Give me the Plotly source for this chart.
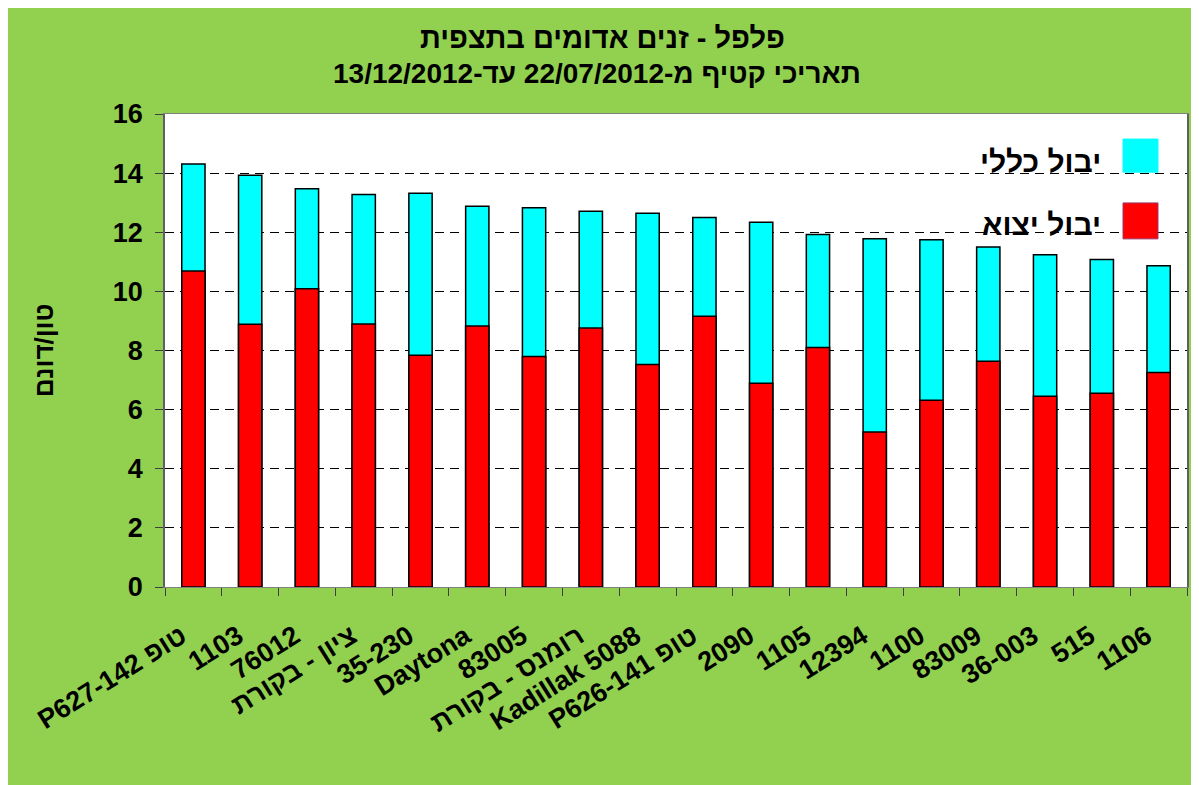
import plotly.graph_objects as go

RLE, PDF = "\u202B", "\u202C"

categories = [
    "טופ P627-142", "1103", "76012", "ציון - בקורת", "35-230", "Daytona",
    "83005", "רומנס - בקורת", "Kadillak 5088", "טופ P626-141", "2090", "1105",
    "12394", "1100", "83009", "36-003", "515", "1106",
]
total_yield = [14.31, 13.93, 13.47, 13.28, 13.32, 12.88, 12.83, 12.71, 12.64, 12.50,
               12.34, 11.92, 11.78, 11.75, 11.50, 11.24, 11.08, 10.87]
export_yield = [10.69, 8.89, 10.09, 8.90, 7.84, 8.83, 7.80, 8.76, 7.53, 9.16,
                6.89, 8.10, 5.24, 6.32, 7.64, 6.45, 6.55, 7.26]
y_ticks = [0, 2, 4, 6, 8, 10, 12, 14, 16]

title_line1 = "פלפל - זנים אדומים בתצפית"
title_line2 = "תאריכי קטיף מ-22/07/2012 עד-13/12/2012"
y_title = "טון/דונם"
name_total = "יבול כללי"
name_export = "יבול יצוא"

GREEN = "#92D050"
FONT = "Liberation Sans, Arial, sans-serif"

# right-to-left display of the Hebrew labels
x_labels = [RLE + c + PDF for c in categories]

fig = go.Figure()
fig.add_trace(go.Bar(
    x=x_labels, y=total_yield, name=name_total, width=0.41,
    marker=dict(color="#00FFFF", line=dict(color="#000000", width=1.5)),
))
fig.add_trace(go.Bar(
    x=x_labels, y=export_yield, name=name_export, width=0.41,
    marker=dict(color="#FF0000", line=dict(color="#000000", width=1.5)),
))

# titles
fig.add_annotation(xref="paper", yref="paper", x=0.428, y=1.1607, text=RLE + title_line1 + PDF,
                   showarrow=False, xanchor="center", yanchor="middle",
                   font=dict(family=FONT, size=29, color="black", weight="bold"))
fig.add_annotation(xref="paper", yref="paper", x=0.423, y=1.0846, text=RLE + title_line2 + PDF,
                   showarrow=False, xanchor="center", yanchor="middle",
                   font=dict(family=FONT, size=28, color="black", weight="bold"))

# custom right-to-left legend
legend_items = [(name_total, "#00FFFF", "#00FFFF", 0.899, 0.877, 0.947),
                (name_export, "#FF0000", "#993366", 0.766, 0.736, 0.812)]
for text, fill, edge, ty, y0, y1 in legend_items:
    fig.add_annotation(xref="paper", yref="paper", x=0.918, y=ty, text=text,
                       showarrow=False, xanchor="right", yanchor="middle",
                       font=dict(family=FONT, size=30, color="black", weight="bold"))
    fig.add_shape(type="rect", xref="paper", yref="paper", x0=0.9374, x1=0.9716,
                  y0=y0, y1=y1, fillcolor=fill, line=dict(color=edge, width=1))

fig.update_layout(
    barmode="overlay",
    width=1189, height=777,
    margin=dict(l=157, r=10, t=106, b=198),
    paper_bgcolor=GREEN, plot_bgcolor="white",
    showlegend=False,
    font=dict(family=FONT, color="black"),
    xaxis=dict(
        tickangle=-32, tickfont=dict(family=FONT, size=27, weight="bold"),
        ticks="outside", ticklen=8, tickcolor="#404040", tickson="boundaries",
        ticklabelstandoff=22, ticklabelshift=-12,
        showline=True, linecolor="#808080", linewidth=1, mirror=True,
        showgrid=False, automargin=False,
    ),
    yaxis=dict(
        range=[0, 16], tickvals=y_ticks, tickfont=dict(family=FONT, size=27, weight="bold"),
        ticks="outside", ticklen=8, tickcolor="#404040", ticklabelstandoff=7,
        showline=True, linecolor="#606060", linewidth=1.5, mirror=True,
        showgrid=True, gridcolor="#000000", gridwidth=1, griddash="9px,6px",
        zeroline=False, automargin=False,
        title=dict(text=y_title, standoff=52,
                   font=dict(family=FONT, size=26, weight="bold")),
    ),
)

fig.write_html("out.html")
